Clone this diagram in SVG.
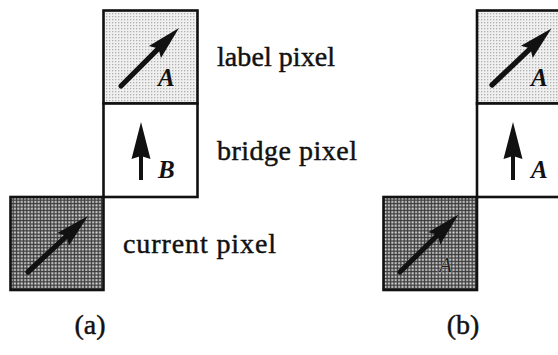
<svg xmlns="http://www.w3.org/2000/svg" xmlns:xlink="http://www.w3.org/1999/xlink" width="558" height="355" viewBox="0 0 558 355">
  <style>
    .cell { stroke: #111; stroke-width: 2.6; }
    .light { fill: url(#stipple); }
    .dark { fill: url(#checker); }
    .blank { fill: #fff; }
    .caption { font-family: "Liberation Serif", "Times New Roman", serif; font-size: 28px; fill: #111; stroke: #111; stroke-width: 0.45; }
    .tag { font-family: "Liberation Serif", "Times New Roman", serif; font-size: 25px; font-style: italic; font-weight: bold; fill: #111; }
    .tag-faint { font-family: "Liberation Serif", "Times New Roman", serif; font-size: 21px; font-style: italic; fill: #222; stroke: #cfcfcf; stroke-width: 0.6; paint-order: stroke; }
    .ink { fill: #111; }
  </style>
  <defs>
    <!-- fine grey stipple for the label pixel -->
    <pattern id="stipple" width="3" height="3" patternUnits="userSpaceOnUse">
      <rect width="3" height="3" fill="#f0f0f0"/>
      <rect x="1" y="1" width="1.3" height="1.3" fill="#b0b0b0"/>
    </pattern>
    <!-- dense dark dot screen for the current pixel -->
    <pattern id="checker" width="3.4" height="3.4" patternUnits="userSpaceOnUse">
      <rect width="3.4" height="3.4" fill="#3a3a3a"/>
      <rect x="0.3" y="0.3" width="2" height="2" fill="#dcdcdc"/>
    </pattern>
    <!-- diagonal vector glyph, drawn pointing right from the origin -->
    <g id="diag">
      <line x1="0" y1="0" x2="56" y2="0" stroke="#111" stroke-width="5.2" stroke-linecap="round"/>
      <path class="ink" d="M82,0 L48,-8.5 L53,0 L48,8.5 Z"/>
    </g>
    <!-- upward vector glyph, drawn pointing right from the origin -->
    <g id="up">
      <line x1="0" y1="0" x2="26" y2="0" stroke="#111" stroke-width="4"/>
      <path class="ink" d="M58,0 L21,-9.5 L24,0 L21,9.5 Z"/>
    </g>
  </defs>

  <rect width="558" height="355" fill="#fff"/>

  <!-- (a) -->
  <g id="label-pixel-a">
    <rect class="cell light" x="103.5" y="10.5" width="94" height="93"/>
    <use xlink:href="#diag" transform="translate(121,86) rotate(-45)"/>
    <text class="tag" x="158" y="86">A</text>
  </g>
  <g id="bridge-pixel-a">
    <rect class="cell blank" x="103.5" y="103.5" width="94" height="93.5"/>
    <use xlink:href="#up" transform="translate(141,180) rotate(-90)"/>
    <text class="tag" x="158" y="178">B</text>
  </g>
  <g id="current-pixel-a">
    <rect class="cell dark" x="10.5" y="197" width="93" height="93"/>
    <use xlink:href="#diag" transform="translate(28,272) rotate(-43)"/>
  </g>
  <g id="captions-a">
    <text class="caption" x="217" y="66" textLength="118" lengthAdjust="spacing">label pixel</text>
    <text class="caption" x="217" y="160" textLength="140" lengthAdjust="spacing">bridge pixel</text>
    <text class="caption" x="123" y="253" textLength="153" lengthAdjust="spacing">current pixel</text>
    <text class="caption" x="90" y="334" text-anchor="middle">(a)</text>
  </g>

  <!-- (b) -->
  <g id="label-pixel-b">
    <rect class="cell light" x="477" y="10.5" width="90" height="93"/>
    <use xlink:href="#diag" transform="translate(492,85) rotate(-43.5)"/>
    <text class="tag" x="531" y="86">A</text>
  </g>
  <g id="bridge-pixel-b">
    <rect class="cell blank" x="477" y="103.5" width="90" height="93.5"/>
    <use xlink:href="#up" transform="translate(513,180) rotate(-90)"/>
    <text class="tag" x="531" y="178">A</text>
  </g>
  <g id="current-pixel-b">
    <rect class="cell dark" x="383.5" y="197" width="93.5" height="93"/>
    <use xlink:href="#diag" transform="translate(400,272) rotate(-44.5)"/>
    <text class="tag-faint" x="439" y="272">A</text>
  </g>
  <g id="captions-b">
    <text class="caption" x="463" y="334" text-anchor="middle">(b)</text>
  </g>

  <!-- no connectors between cells; group kept for structure -->
  <g id="connectors"/>
</svg>
